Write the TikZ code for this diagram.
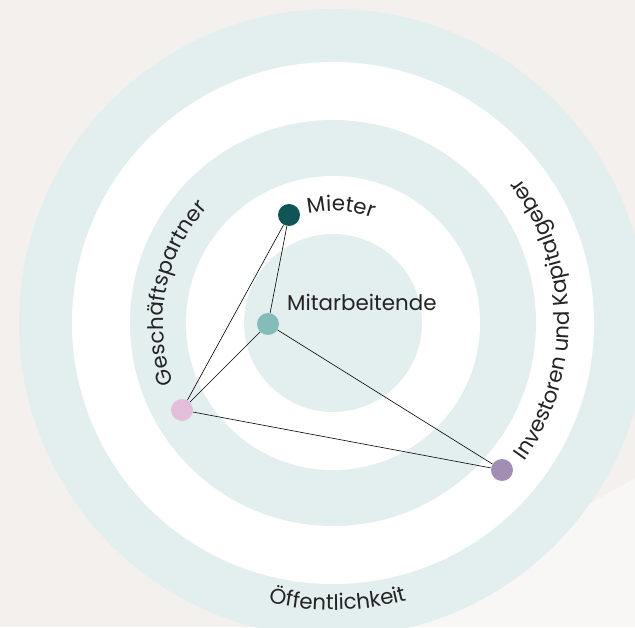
\documentclass[tikz,border=0pt]{standalone}
\usepackage{fontspec}
\setmainfont{Poppins}
\usetikzlibrary{decorations.text}

\definecolor{paper}{HTML}{F3F0ED}
\definecolor{paperlight}{HTML}{F8F7F6}
\definecolor{ring}{HTML}{E3EFEE}
\definecolor{inkgray}{HTML}{242424}
\definecolor{cMieter}{HTML}{0F5456}
\definecolor{cMitarb}{HTML}{83BCB8}
\definecolor{cPartner}{HTML}{E2BEDA}
\definecolor{cInvest}{HTML}{A38EB3}

\newcommand{\lblfont}{\fontsize{21.4}{25}\selectfont\color{inkgray}}

\tikzset{
  dot/.style={circle, inner sep=0pt, minimum size=22pt, draw=none},
  link/.style={draw=black, line width=0.6pt},
  lbl/.style={font=\lblfont, text=inkgray, inner sep=0pt},
}

\begin{document}
\begin{tikzpicture}[x=1pt, y=1pt]
  \useasboundingbox (0,0) rectangle (635,627);
  % paper background with lighter corner
  \fill[paper] (0,0) rectangle (635,627);
  \fill[paperlight] (635,149) -- (372,0) -- (635,0) -- cycle;

  % concentric rings
  \coordinate (C) at (333,304);
  \fill[ring]  (C) circle[radius=314];
  \fill[white] (C) circle[radius=261];
  \fill[ring]  (C) circle[radius=203];
  \fill[white] (C) circle[radius=147];
  \fill[ring]  (C) circle[radius=89];

  % stakeholder dots
  \node[dot, fill=cMieter]  (mieter)  at (289,412) {};
  \node[dot, fill=cMitarb]  (mitarb)  at (268,303) {};
  \node[dot, fill=cPartner] (partner) at (182,217) {};
  \node[dot, fill=cInvest]  (invest)  at (502,157) {};

  % relations
  \draw[link] (mieter) -- (partner);
  \draw[link] (mieter) -- (mitarb);
  \draw[link] (mitarb) -- (partner);
  \draw[link] (mitarb) -- (invest);
  \draw[link] (partner) -- (invest);

  % straight label
  \node[lbl, anchor=base west] (lMitarb) at (287,316) {Mitarbeitende};

  % curved labels
  \path[decorate, decoration={text along path, text align=center,
      text={|\lblfont|Mieter}}]
    ([shift={(120:112)}]C) arc[start angle=120, end angle=52, radius=112];
  \path[decorate, decoration={text along path, text align=center,
      text={|\lblfont|Geschäftspartner}}]
    ([shift={(225:170)}]C) arc[start angle=225, end angle=113, radius=170];
  \path[decorate, decoration={text along path, text align=center,
      text={|\lblfont|Investoren und Kapitalgeber}}]
    ([shift={(-57:236)}]C) arc[start angle=-57, end angle=59, radius=236];
  \path[decorate, decoration={text along path, text align=center,
      text={|\lblfont|Öffentlichkeit}}]
    ([shift={(-120:287)}]C) arc[start angle=-120, end angle=-58, radius=287];
\end{tikzpicture}
\end{document}
